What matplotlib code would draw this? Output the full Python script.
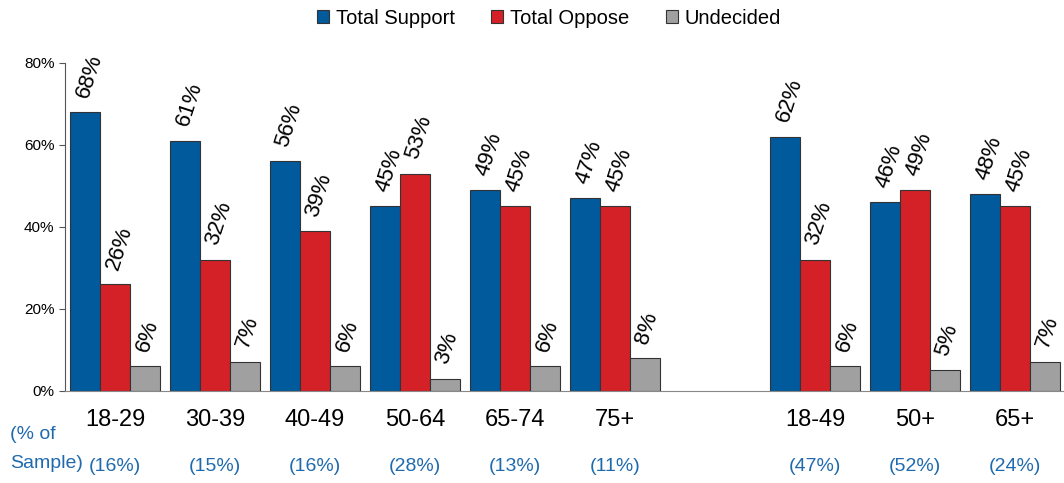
import numpy as np
import matplotlib.pyplot as plt

plt.rcParams['font.family'] = ['Liberation Sans', 'DejaVu Sans']

groups = ['18-29', '30-39', '40-49', '50-64', '65-74', '75+', '18-49', '50+', '65+']
sample = ['(16%)', '(15%)', '(16%)', '(28%)', '(13%)', '(11%)', '(47%)', '(52%)', '(24%)']
support = [68, 61, 56, 45, 49, 47, 62, 46, 48]
oppose = [26, 32, 39, 53, 45, 45, 32, 49, 45]
undecided = [6, 7, 6, 3, 6, 8, 6, 5, 7]

series = [('Total Support', support, '#005A9C'),
          ('Total Oppose', oppose, '#D42027'),
          ('Undecided', undecided, '#A0A0A0')]

# slot 6 stays empty to split the two sets of age bands
pos = np.array([0, 1, 2, 3, 4, 5, 7, 8, 9])
w = 0.3
blue_txt = '#1F6AAE'

fig = plt.figure(figsize=(10.64, 4.83), dpi=100)
ax = fig.add_axes([0.0611, 0.1905, 0.9389, 0.6791])

for i, (name, vals, col) in enumerate(series):
    xs = pos + (i - 1) * w
    ax.bar(xs, vals, w, color=col, edgecolor='#333333', linewidth=0.8, label=name)
    for x, v in zip(xs, vals):
        ax.annotate(f'{v}%', (x, v), xytext=(-2, 11), textcoords='offset points',
                    rotation=72, rotation_mode='anchor', ha='left', va='center',
                    fontsize=16, color='black', annotation_clip=False)

ax.set_xlim(-0.5, 9.49)
ax.set_ylim(0, 80)
ax.set_yticks([0, 20, 40, 60, 80])
ax.set_yticklabels([f'{t}%' for t in [0, 20, 40, 60, 80]], fontsize=11)
ax.tick_params(axis='y', direction='out', length=4, width=0.8, color='#555555')
ax.set_xticks([])
for s in ['top', 'right']:
    ax.spines[s].set_visible(False)
ax.spines['left'].set_color('#555555')
ax.spines['bottom'].set_color('#888888')

# age band names and sample shares under each group
for x, g, s in zip(pos, groups, sample):
    ax.text(x, -7, g, ha='center', va='center', fontsize=17)
    ax.text(x, -18.5, s, ha='center', va='center', fontsize=14, color=blue_txt)
fig.text(10 / 1064, 1 - 449 / 483, '(% of\nSample)', ha='left', va='center',
         fontsize=14, color=blue_txt, linespacing=1.85)

fig.legend(loc='center', bbox_to_anchor=(0.516, 1 - 18 / 483), ncol=3, frameon=False,
           fontsize=14.5, handlelength=0.6, handleheight=0.6, handletextpad=0.35,
           columnspacing=1.8)

fig.savefig('out.png', dpi=100)
